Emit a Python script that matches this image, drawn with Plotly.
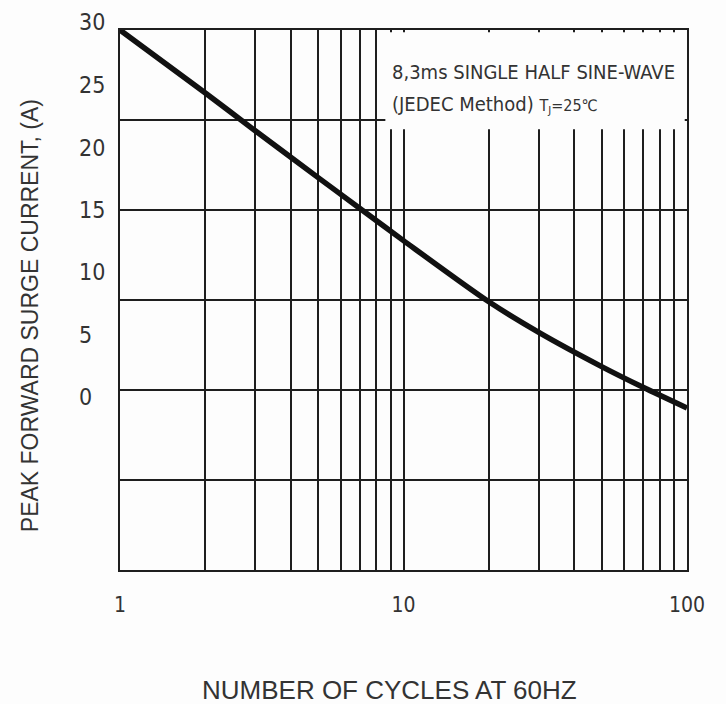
import plotly.graph_objects as go

# ---- data ----
cycles = [1, 2, 3, 5, 7, 10, 20, 30, 50, 70, 100]
current = [30, 26.5, 24.4, 21.8, 20.1, 18.3, 14.9, 13.2, 11.3, 10.15, 9.0]

x_tick_vals = [1, 10, 100]
x_tick_text = ["1", "10", "100"]
x_minor_vals = [2, 3, 4, 5, 6, 7, 8, 9, 20, 30, 40, 50, 60, 70, 80, 90]

y_range = [0, 30]
y_grid_vals = [0, 5, 10, 15, 20, 25, 30]
# tick labels as printed (they are offset from the grid in the original scan)
y_label_text = ["30", "25", "20", "15", "10", "5", "0"]
y_label_pos = [30.44, 26.94, 23.44, 20.0, 16.56, 13.06, 9.61]

note_line1 = "8,3ms SINGLE HALF SINE-WAVE"
note_line2 = "(JEDEC Method) <span style='font-size:16px'>T<sub>J</sub>=25℃</span>"

x_title = "NUMBER OF CYCLES AT 60HZ"
y_title = "PEAK FORWARD SURGE CURRENT, (A)"

GRID = "#1e1e1e"
TXT = "#333333"
FONT = "Liberation Sans, Arial, sans-serif"
NARROW = "Liberation Sans Narrow, DejaVu Sans Condensed, Liberation Sans, Arial, sans-serif"

fig = go.Figure()
fig.add_trace(go.Scatter(
    x=cycles, y=current, mode="lines",
    line=dict(color="#111111", width=5.5, shape="spline", smoothing=0.8),
    hoverinfo="skip", showlegend=False,
))

fig.update_layout(
    width=726, height=704,
    margin=dict(l=120, r=39, t=30, b=134, autoexpand=False),
    paper_bgcolor="#fdfdfd", plot_bgcolor="#fdfdfd",
    xaxis=dict(
        type="log", range=[0, 2], automargin=False,
        tickmode="array", tickvals=x_tick_vals, ticktext=x_tick_text,
        showgrid=True, gridcolor=GRID, gridwidth=2,
        minor=dict(tickmode="array", tickvals=x_minor_vals, showgrid=True,
                   gridcolor=GRID, gridwidth=2, ticks=""),
        ticks="", ticklabelstandoff=15,
        tickfont=dict(family=NARROW, size=21, color=TXT),
        showline=True, linecolor=GRID, linewidth=2, mirror=True,
        zeroline=False,
    ),
    yaxis=dict(
        range=y_range, tickmode="array", tickvals=y_grid_vals,
        showticklabels=False, ticks="", automargin=False,
        showgrid=True, gridcolor=GRID, gridwidth=2,
        showline=True, linecolor=GRID, linewidth=2, mirror=True,
        zeroline=False,
    ),
)

# white note box covering the upper right grid
fig.add_shape(type="rect", xref="paper", yref="paper",
              x0=0.468, x1=0.996, y0=0.816, y1=0.996,
              fillcolor="#fdfdfd", line=dict(width=0), layer="above")

fig.add_annotation(xref="paper", yref="paper", x=0.477, y=0.922,
                   text=note_line1, showarrow=False, xanchor="left", yanchor="middle",
                   font=dict(family=NARROW, size=20, color=TXT))
fig.add_annotation(xref="paper", yref="paper", x=0.477, y=0.862,
                   text=note_line2, showarrow=False, xanchor="left", yanchor="middle",
                   font=dict(family=NARROW, size=20, color=TXT))

for txt, pos in zip(y_label_text, y_label_pos):
    frac = (pos - y_range[0]) / (y_range[1] - y_range[0])
    fig.add_annotation(xref="paper", yref="paper", x=0, y=frac, xshift=-43,
                       text=txt, showarrow=False, xanchor="left", yanchor="middle",
                       font=dict(family=NARROW, size=23, color=TXT))

fig.add_annotation(xref="paper", yref="paper", x=0, xshift=-90, y=0.47,
                   text=y_title, textangle=-90, showarrow=False,
                   xanchor="center", yanchor="middle",
                   font=dict(family=FONT, size=23, color=TXT))

fig.add_annotation(xref="paper", yref="paper", x=0.475, y=-0.222,
                   text=x_title, showarrow=False,
                   xanchor="center", yanchor="middle",
                   font=dict(family=FONT, size=26, color=TXT))

fig.write_html("out.html", config={"displayModeBar": False},
               post_script="document.body.style.margin='0';")
